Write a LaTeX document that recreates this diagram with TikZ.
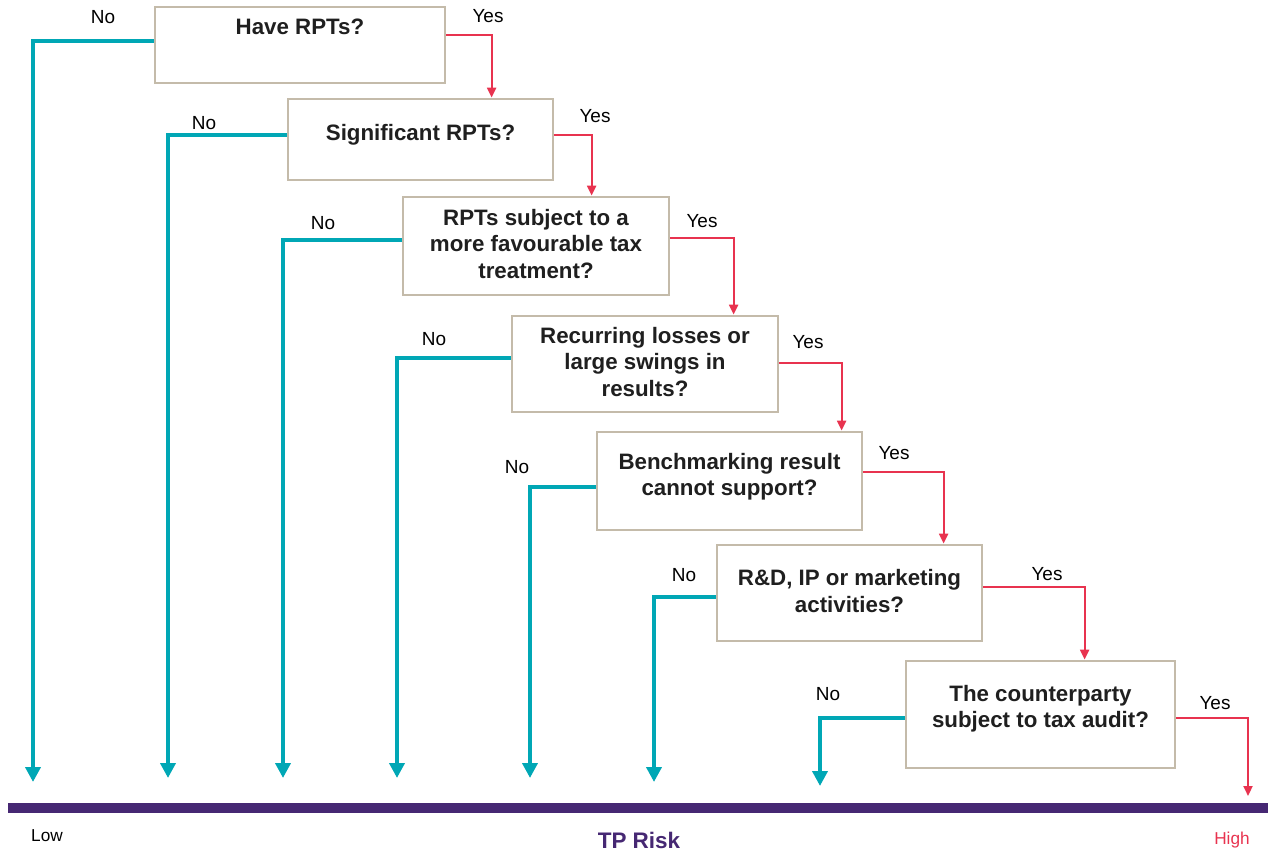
\documentclass[tikz,border=0pt]{standalone}
\usepackage{fontspec}
\setmainfont{Liberation Sans}
\usepackage{tikz}
\usetikzlibrary{positioning, calc, arrows.meta}
\definecolor{boxline}{HTML}{C4BBAA}
\definecolor{teal}{HTML}{00A7B5}
\definecolor{redline}{HTML}{E8334F}
\definecolor{purp}{HTML}{462873}
\tikzset{qbox/.style = {draw=boxline, line width=1.6pt, fill=white, inner sep=0pt},
         qtext/.style = {align=center, text=black!88, font=\bfseries\fontsize{12.7}{14.9}\selectfont},
         tag/.style = {font=\fontsize{10.8}{12}\selectfont},
         endtag/.style = {font=\fontsize{9.8}{11}\selectfont},
         noline/.style = {draw=teal, line width=2.3pt, -{Triangle[width=0.3cm,length=0.3cm]}},
         yesline/.style = {draw=redline, line width=1.2pt, -{Triangle[width=0.18cm,length=0.2cm]}}}

\begin{document}
\begin{tikzpicture}[x=0.02cm, y=-0.02cm]
        \useasboundingbox (0,0) rectangle (1268,852);
        % question boxes
        \node [qbox, minimum width=5.8cm,  minimum height=1.52cm] (q1) at (300,45) {};
        \node [qbox, minimum width=5.3cm,  minimum height=1.62cm] (q2) at (420.5,139.5) {};
        \node [qbox, minimum width=5.32cm, minimum height=1.96cm] (q3) at (536,246) {};
        \node [qbox, minimum width=5.32cm, minimum height=1.92cm] (q4) at (645,364) {};
        \node [qbox, minimum width=5.3cm,  minimum height=1.96cm] (q5) at (729.5,481) {};
        \node [qbox, minimum width=5.3cm,  minimum height=1.92cm] (q6) at (849.5,593) {};
        \node [qbox, minimum width=5.38cm, minimum height=2.14cm] (q7) at (1040.5,714.5) {};
        \node [qtext] (t1) at (300,27) {Have RPTs?};
        \node [qtext] (t2) at (420.5,135) {Significant RPTs?};
        \node [qtext] (t3) at (536,244) {RPTs subject to a\\more favourable tax\\treatment?};
        \node [qtext] (t4) at (645,362) {Recurring losses or\\large swings in\\results?};
        \node [qtext] (t5) at (729.5,477) {Benchmarking result\\cannot support?};
        \node [qtext] (t6) at (849.5,591) {R\&D, IP or marketing\\activities?};
        \node [qtext] (t7) at (1040.5,709) {The counterparty\\subject to tax audit?};
        % ends of the arrows
        \coordinate (lo1) at (33,782);
        \coordinate (lo2) at (168,778);
        \coordinate (lo3) at (283,778);
        \coordinate (lo4) at (397,778);
        \coordinate (lo5) at (530,778);
        \coordinate (lo6) at (654,782);
        \coordinate (lo7) at (820,786);
        \coordinate (hi) at (1248,796);
        % no branches
        \draw [noline] ($(q1.west)+(0,-4)$) -| (lo1);
        \draw [noline] ($(q2.west)+(0,-4.5)$) -| (lo2);
        \draw [noline] ($(q3.west)+(0,-6)$) -| (lo3);
        \draw [noline] ($(q4.west)+(0,-6)$) -| (lo4);
        \draw [noline] ($(q5.west)+(0,6)$) -| (lo5);
        \draw [noline] ($(q6.west)+(0,4)$) -| (lo6);
        \draw [noline] ($(q7.west)+(0,3.5)$) -| (lo7);
        % yes branches
        \draw [yesline] ($(q1.east)+(0,-10)$) -| ($(q2.north west)+(205,0)$);
        \draw [yesline] ($(q2.east)+(0,-4.5)$) -| ($(q3.north west)+(190,0)$);
        \draw [yesline] ($(q3.east)+(0,-8)$) -| ($(q4.north west)+(223,0)$);
        \draw [yesline] ($(q4.east)+(0,-1)$) -| ($(q5.north west)+(246,0)$);
        \draw [yesline] ($(q5.east)+(0,-9)$) -| ($(q6.north west)+(228,0)$);
        \draw [yesline] ($(q6.east)+(0,-6)$) -| ($(q7.north west)+(180,0)$);
        \draw [yesline] ($(q7.east)+(0,3.5)$) -| (hi);
        % branch labels
        \node [tag] (n1) at (103,17) {No};
        \node [tag] (n2) at (204,123) {No};
        \node [tag] (n3) at (323,223) {No};
        \node [tag] (n4) at (434,339) {No};
        \node [tag] (n5) at (517,467) {No};
        \node [tag] (n6) at (684,575) {No};
        \node [tag] (n7) at (828,694) {No};
        \node [tag] (y1) at (488,16) {Yes};
        \node [tag] (y2) at (595,116) {Yes};
        \node [tag] (y3) at (702,221) {Yes};
        \node [tag] (y4) at (808,342) {Yes};
        \node [tag] (y5) at (894,453) {Yes};
        \node [tag] (y6) at (1047,574) {Yes};
        \node [tag] (y7) at (1215,703) {Yes};
        % risk scale
        \draw [purp, line width=5.7pt] (8,808) -- (1268,808);
        \node [endtag] (low) at (47,836) {Low};
        \node [text=purp, inner sep=1pt, font=\bfseries\fontsize{12.8}{15}\selectfont] (risk) at (639,840) {TP Risk};
        \node [endtag, text=redline] (high) at (1232,840) {High};
    \end{tikzpicture}
\end{document}
